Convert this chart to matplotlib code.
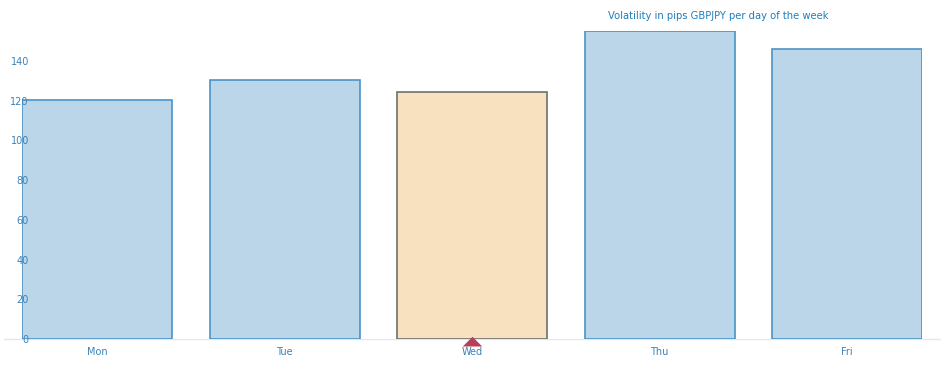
import matplotlib
matplotlib.use("Agg")
import matplotlib.pyplot as plt
from matplotlib.lines import Line2D
import matplotlib.transforms as mtransforms

days = ["Mon", "Tue", "Wed", "Thu", "Fri"]
pips = [120.5, 130.5, 124.5, 155, 146]
highlight = "Wed"
yticks = [0, 20, 40, 60, 80, 100, 120, 140]
title = "Volatility in pips GBPJPY per day of the week"

W, H = 943, 366
fig = plt.figure(figsize=(W / 100, H / 100), dpi=100)
ax = fig.add_axes([22 / W, 27 / H, 900 / W, 308 / H])
ax.set_axisbelow(False)

face = ["#f8e1be" if d == highlight else "#bcd6e9" for d in days]
edge = ["#6f6f6f" if d == highlight else "#4a93c8" for d in days]
ax.bar(range(len(days)), pips, width=0.8, color=face, edgecolor=edge, linewidth=1.2, zorder=1)

ax.set_xlim(-0.4, len(days) - 0.6)
ax.set_ylim(0, 155)
for s in ax.spines.values():
    s.set_visible(False)
ax.set_yticks(yticks)
ax.set_yticklabels([str(v) for v in yticks])
ax.set_xticks(range(len(days)))
ax.set_xticklabels(days)
ax.tick_params(axis="both", length=0, labelsize=7, labelcolor="#3b82b8")
ax.tick_params(axis="y", pad=-5)
ax.tick_params(axis="x", pad=6)

# baseline
fig.add_artist(Line2D([4 / W, 940 / W], [27 / H, 27 / H], color="#e3e8ee", lw=1, zorder=0))

# highlight marker (flat triangle)
hi = days.index(highlight)
tri = [(-1, 0), (1, 0), (0, 1), (-1, 0)]
ax.plot([hi], [0], marker=tri, markersize=14, color="#b4405a", markeredgewidth=0, clip_on=False,
        transform=ax.transData + mtransforms.ScaledTranslation(0, -7 / 100, fig.dpi_scale_trans),
        zorder=6)

fig.text(718 / W, 1 - 16 / H, title, ha="center", va="center", fontsize=7.2, color="#1f7fbf")

fig.savefig("out.png", dpi=100)
